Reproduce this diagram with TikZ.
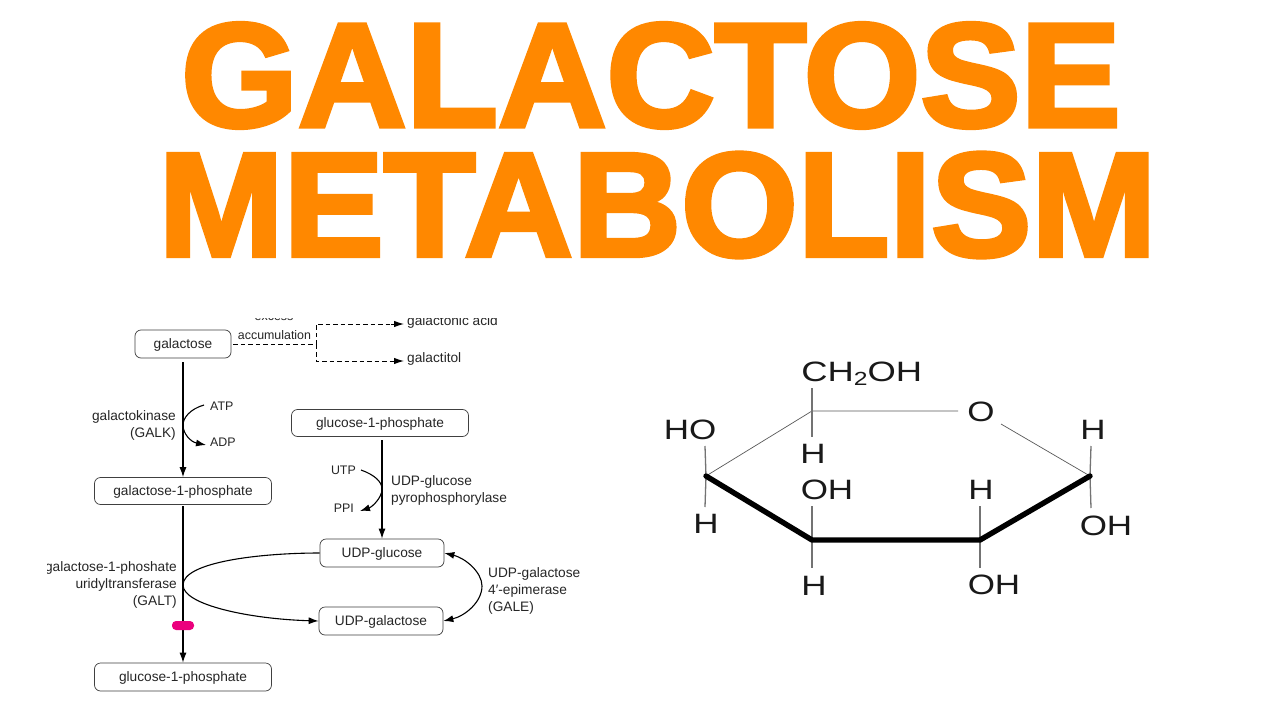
\documentclass[tikz,border=0pt]{standalone}
\usepackage{fontspec}
\setmainfont{Liberation Sans}
\newfontfamily\bigfont[BoldFeatures={FakeBold=3}]{Liberation Sans}
\usetikzlibrary{arrows.meta}
\definecolor{orangeT}{RGB}{255,136,0}
\definecolor{pinkM}{RGB}{235,0,125}
\begin{document}
\begin{tikzpicture}[x=1pt,y=-1pt,
 every node/.style={font=\fontsize{13.7}{17}\selectfont,inner sep=0pt,text=black!85},
 box/.style={draw=black!75,line width=.7pt,rounded corners=6pt,minimum height=27pt,fill=white,text height=11.5pt,text depth=2.5pt},
 big/.style={font=\bigfont\fontsize{148}{148}\selectfont\bfseries,text=orangeT,inner sep=0pt,anchor=center,xscale=1.014},
 small/.style={font=\fontsize{12.4}{15}\selectfont},
 conn/.style={line width=1.1pt,black,-{Latex[length=10pt,width=7pt]}},
 curve/.style={line width=1.1pt,black,-{Latex[length=10pt,width=7pt]}},
 dashline/.style={line width=1pt,dash pattern=on 4.5pt off 3pt},
 chemlab/.style={font=\fontsize{28}{28}\selectfont,text=black!90,xscale=1.25},
 thinb/.style={line width=.7pt,black!65},
 vert/.style={line width=1.3pt,black!55},
 boldb/.style={line width=5.4pt,black,line cap=round,line join=round}]
\useasboundingbox (0,0) rectangle (1280,720);
\fill[white] (0,0) rectangle (1280,720);
\node[big] (t1) at (651,75.5) {GALACTOSE};
\node[big] (t2) at (657.5,205) {METABOLISM};

\node[box,minimum width=96pt,minimum height=28pt] (gal) at (183,344) {galactose};
\node[box,minimum width=177pt] (g1p) at (183,491) {galactose-1-phosphate};
\node[box,minimum width=177pt,minimum height=28pt] (g1pb) at (183,677) {glucose-1-phosphate};
\node[box,minimum width=177pt] (g1pt) at (380,423) {glucose-1-phosphate};
\node[box,minimum width=124pt,minimum height=28pt] (ug) at (382,553) {UDP-glucose};
\node[box,minimum width=124pt,minimum height=28pt] (ugal) at (381,621) {UDP-galactose};

\node[small] (excess) at (274,317) {excess};
\node[small] (acc) at (274.5,335) {accumulation};
\node[anchor=west] (ga) at (407,322) {galactonic acid};
\node[anchor=west] (gt) at (407,359) {galactitol};
\fill[white] (230,305) rectangle (520,317.5);

\coordinate (jn) at (316,344.5);
\coordinate (jna) at (316,324);
\coordinate (jnb) at (316,361);
\coordinate (ea) at (391,324);
\coordinate (eb) at (391,361);
\coordinate (ha) at (404,324);
\coordinate (hb) at (404,361);
\draw[dashline] (gal.east) ++(2,0.5) -- (jn);
\draw[dashline] (jn) -- (jna) -- (ea);
\draw[dashline] (jn) -- (jnb) -- (eb);
\draw[-{Latex[length=10pt,width=6.5pt]},line width=1pt] (ea) -- (ha);
\draw[-{Latex[length=10pt,width=6.5pt]},line width=1pt] (eb) -- (hb);

\node[anchor=east,align=right] (galk) at (176,425) {galactokinase\\(GALK)};
\node[anchor=west,small] (atp) at (210,406) {ATP};
\node[anchor=west,small] (adp) at (210,442.5) {ADP};
\draw[conn] (183,362) -- (g1p.north);
\coordinate (atpe) at (204,405);
\coordinate (adpe) at (206,445);
\draw[curve] (atpe) .. controls (190,409) and (183,418) .. (183,425) .. controls (183,434) and (191,442) .. (adpe);

\node[anchor=east] (galta) at (177,568) {galactose-1-phoshate};
\node[anchor=east] (galtb) at (177,585) {uridyltransferase};
\node[anchor=east] (galtc) at (177,602) {(GALT)};
\fill[white] (30,555) rectangle (47,580);
\draw[conn] (183,506) -- (g1pb.north);
\coordinate (gt1) at (183,585);
\draw[line width=1.1pt] (ug.west) .. controls (260,553) and (183,562) .. (gt1);
\draw[curve] (gt1) .. controls (183,605) and (250,619) .. (ugal.west);
\node[fill=pinkM,draw=none,rounded corners=4pt,minimum width=22pt,minimum height=9pt] (blk) at (183,625.5) {};

\node[anchor=east,small] (utp) at (356,470) {UTP};
\node[anchor=east,small] (ppi) at (354,508) {PPI};
\node[anchor=west,align=left] (ugp) at (391,490.5) {UDP-glucose\\pyrophosphorylase};
\draw[conn] (382,440) -- (ug.north);
\draw[curve] (361,470) .. controls (375,475) and (382,482) .. (382,489) .. controls (382,498) and (372,507) .. (360,511);

\node[anchor=west,align=left] (gale) at (488,590.5) {UDP-galactose\\4′-epimerase\\(GALE)};
\draw[line width=1.1pt,{Latex[length=10pt,width=7pt]}-{Latex[length=10pt,width=7pt]}] (ug.east) .. controls (465,558) and (482,572) .. (482,586) .. controls (482,602) and (465,616) .. (ugal.east);

% sugar ring
\coordinate (c1) at (706,476);
\coordinate (c2) at (812,411);
\coordinate (c3) at (1090,476);
\coordinate (c4) at (980,540);
\coordinate (c5) at (812,540);
\node[chemlab,anchor=west,xscale=1.04] (chOH) at (801,373.5) {CH\raisebox{-4pt}{\fontsize{19}{19}\selectfont 2}OH};
\node[chemlab] (o) at (981,412) {O};
\node[chemlab] (ho) at (690,430) {HO};
\node[chemlab] (h1) at (813,454) {H};
\node[chemlab] (h2) at (1093,430) {H};
\node[chemlab] (oh1) at (827,490) {OH};
\node[chemlab] (h3) at (981,490) {H};
\node[chemlab] (h4) at (706,524) {H};
\node[chemlab] (oh2) at (1106,526) {OH};
\node[chemlab] (h5) at (814,586) {H};
\node[chemlab] (oh3) at (994,585) {OH};

\draw[thinb] (c1) -- (c2) -- (958,411);
\draw[thinb] (1001,424) -- (c3);
\draw[vert] (c2) -- (812,388);
\draw[vert] (c2) -- (812,437);
\draw[vert] (c1) -- (705,446);
\draw[vert] (c1) -- (705,507);
\draw[vert] (c5) -- (812,506);
\draw[vert] (c5) -- (812,568);
\draw[vert] (c4) -- (980,506);
\draw[vert] (c4) -- (980,568);
\draw[vert] (c3) -- (1091,446);
\draw[vert] (c3) -- (1091,508);
\draw[boldb] (c1) -- (c5) -- (c4) -- (c3);
\end{tikzpicture}
\end{document}
